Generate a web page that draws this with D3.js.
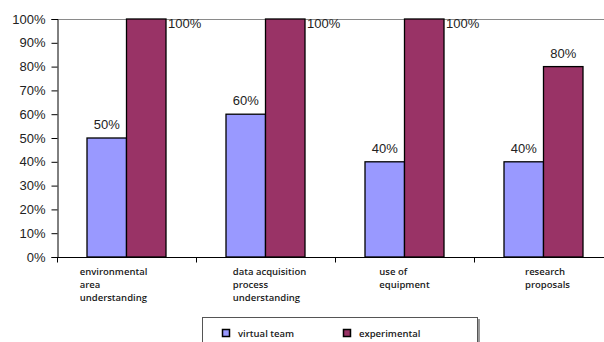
<!DOCTYPE html>
<html>
<head>
<meta charset="utf-8">
<script src="https://cdn.jsdelivr.net/npm/d3@7"></script>
<style>
  body { margin: 0; background: #fff; overflow: hidden; }
  svg { display: block; }
</style>
</head>
<body>
<svg id="chart" width="604" height="342"></svg>
<script>
var categories = [
    ['environmental', 'area', 'understanding'],
    ['data acquisition', 'process', 'understanding'],
    ['use of', 'equipment'],
    ['research', 'proposals']
];
var virtualTeam = [0.5, 0.6, 0.4, 0.4];
var experimentalTeam = [1.0, 1.0, 1.0, 0.8];
var yTicks = [0, 0.1, 0.2, 0.3, 0.4, 0.5, 0.6, 0.7, 0.8, 0.9, 1.0];
var seriesNames = ['virtual team', 'experimental team'];
var seriesColors = ['#9999ff', '#993366'];

var svg = d3.select('#chart');
var plotLeft = 57, plotTop = 19, plotBottom = 257, catWidth = 139;
var barW = 39.5;

var x = d3.scaleBand().domain(d3.range(categories.length))
    .range([plotLeft, plotLeft + catWidth * categories.length]).padding(0);
var y = d3.scaleLinear().domain([0, 1]).range([plotBottom, plotTop]);

// top gridline
svg.append('line')
    .attr('x1', plotLeft).attr('x2', 604)
    .attr('y1', y(1) + 0.5).attr('y2', y(1) + 0.5)
    .attr('stroke', '#8a8a8a').attr('stroke-width', 1);

// y axis
var yAxis = svg.append('g')
    .attr('transform', 'translate(' + (plotLeft + 0.5) + ',0)')
    .call(d3.axisLeft(y).tickValues(yTicks).tickSize(6).tickPadding(6)
        .tickFormat(d3.format('.0%')));
yAxis.select('.domain').attr('stroke', '#000');
yAxis.selectAll('.tick line').attr('stroke', '#000');
yAxis.selectAll('text')
    .attr('fill', '#222')
    .style('font-family', 'Liberation Sans, Arial, sans-serif')
    .style('font-size', '13px');

// bars
[virtualTeam, experimentalTeam].forEach(function(series, s) {
    svg.selectAll('rect.s' + s).data(series).enter().append('rect')
        .attr('class', 's' + s)
        .attr('x', function(d, i) { return x(i) + x.bandwidth() / 2 - barW + s * barW; })
        .attr('y', function(d) { return y(d); })
        .attr('width', barW)
        .attr('height', function(d) { return y(0) - y(d); })
        .attr('fill', seriesColors[s])
        .attr('stroke', '#000').attr('stroke-width', 1.3);
});

// value labels (100% ones sit to the right, no room above)
function addLabels(series, s) {
    svg.selectAll('text.v' + s).data(series).enter().append('text')
        .attr('class', 'v' + s)
        .attr('x', function(d, i) {
            var cx = x(i) + x.bandwidth() / 2 - barW / 2 + s * barW;
            return d >= 1 ? cx + barW / 2 + 2 : cx;
        })
        .attr('y', function(d) { return d >= 1 ? y(d) + 9 : y(d) - 9; })
        .attr('text-anchor', function(d) { return d >= 1 ? 'start' : 'middle'; })
        .attr('fill', '#222')
        .style('font-family', 'Liberation Sans, Arial, sans-serif')
        .style('font-size', '13px')
        .text(function(d) { return d3.format('.0%')(d); });
}
addLabels(virtualTeam, 0);
addLabels(experimentalTeam, 1);

// x axis
var xAxisG = svg.append('g').attr('transform', 'translate(0,' + (plotBottom + 0.5) + ')');
xAxisG.append('line').attr('x1', plotLeft).attr('x2', 604).attr('stroke', '#000');
xAxisG.selectAll('line.t').data(d3.range(categories.length + 1)).enter().append('line')
    .attr('class', 't')
    .attr('x1', function(i) { return plotLeft + i * catWidth + 0.5; })
    .attr('x2', function(i) { return plotLeft + i * catWidth + 0.5; })
    .attr('y1', 0).attr('y2', 5).attr('stroke', '#000');

// category labels: left-aligned lines, block centred on the band
categories.forEach(function(lines, i) {
    var t = svg.append('text')
        .attr('y', 275)
        .attr('fill', '#1a1a1a')
        .style('font-family', 'Open Sans, sans-serif')
        .style('font-size', '9.5px')
        .style('font-weight', 600);
    lines.forEach(function(l, j) {
        t.append('tspan').attr('dy', j === 0 ? 0 : 13).text(l);
    });
    var w = d3.max(t.selectAll('tspan').nodes(), function(n) { return n.getComputedTextLength(); });
    var x0 = x(i) + x.bandwidth() / 2 - w / 2 + (i === 0 ? -13 : (i === 2 ? 0 : 4));
    t.selectAll('tspan').attr('x', x0);
});

// legend (runs off the bottom edge, as in the original)
var lg = svg.append('g');
lg.append('rect').attr('x', 204).attr('y', 319).attr('width', 276).attr('height', 40)
    .attr('fill', '#999');
lg.append('rect').attr('x', 202.5).attr('y', 317.5).attr('width', 275).attr('height', 40)
    .attr('fill', '#fff').attr('stroke', '#555');
var legendX = [222, 343];
seriesNames.forEach(function(name, s) {
    lg.append('rect').attr('x', legendX[s] + 0.5).attr('y', 329.5)
        .attr('width', 7).attr('height', 7)
        .attr('fill', seriesColors[s]).attr('stroke', '#000').attr('stroke-width', 1.5);
    var words = s === 1 ? ['experimental', 'team'] : [name];
    var t = lg.append('text').attr('x', legendX[s] + 16).attr('y', 337)
        .attr('fill', '#1a1a1a')
        .style('font-family', 'Open Sans, sans-serif')
        .style('font-size', '9.5px').style('font-weight', 600);
    words.forEach(function(w, j) {
        t.append('tspan').attr('x', legendX[s] + 16).attr('dy', j === 0 ? 0 : 13).text(w);
    });
});
</script>
</body>
</html>
